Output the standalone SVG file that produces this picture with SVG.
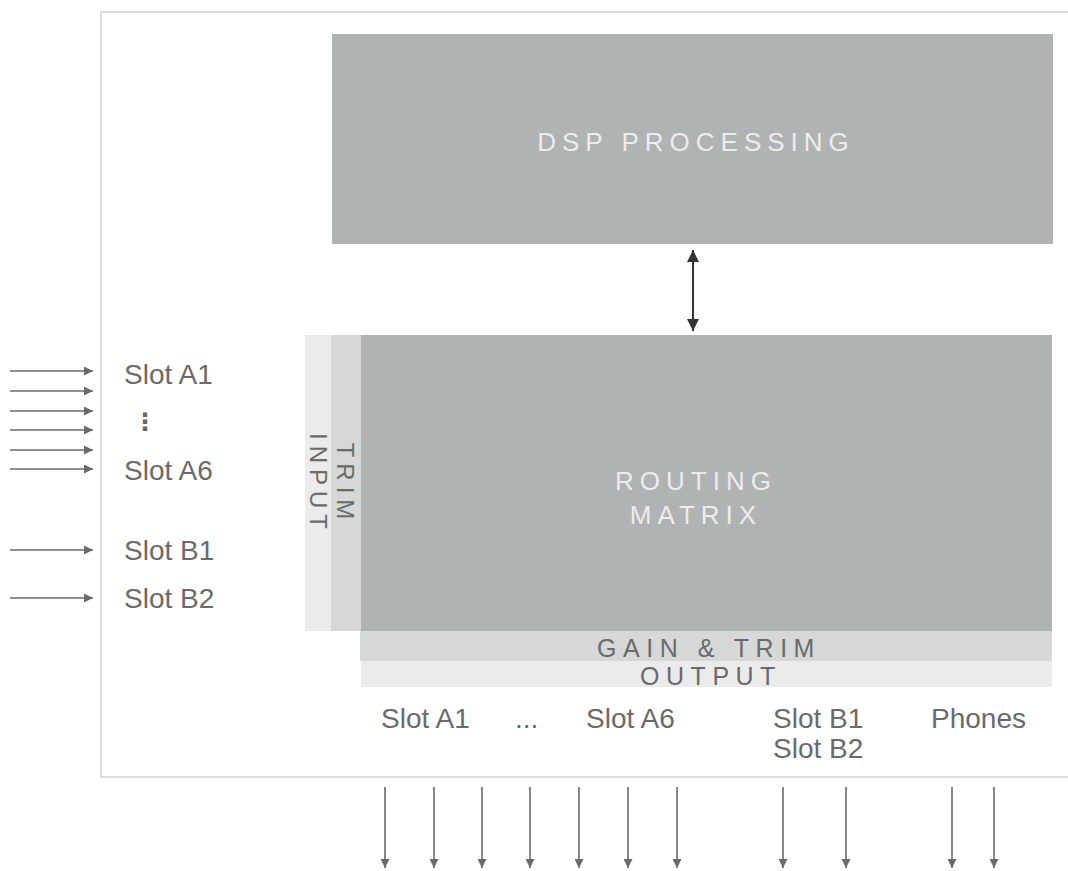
<svg xmlns="http://www.w3.org/2000/svg" width="1068" height="871" viewBox="0 0 1068 871">
<style>
.frame{stroke:#dcdcdc;stroke-width:2;fill:none}
.big{fill:#b0b3b3}
.trim{fill:#d6d8d8}
.light{fill:#ebebeb}
.btxt{font-family:"Liberation Sans",Arial,sans-serif;font-size:26px;fill:#ececec;letter-spacing:6px;text-anchor:middle}
.stxt{font-family:"Liberation Sans",Arial,sans-serif;font-size:25px;fill:#6a6a6a;letter-spacing:6.5px;text-anchor:middle}
.rtxt{font-family:"Liberation Sans",Arial,sans-serif;font-size:24px;fill:#6a6a6a;letter-spacing:6px;text-anchor:middle}
.lbl{font-family:"Liberation Sans",Arial,sans-serif;font-size:28px;fill:#6a6a6a}
.dots{font-family:"DejaVu Sans",sans-serif;font-size:24px;fill:#666666;font-weight:bold}
.conn{stroke:#6a6a6a;stroke-width:1.6;fill:none}
.dark{stroke:#333;stroke-width:2;fill:none}
</style>
<defs>
<marker id="ah" viewBox="0 0 10 10" refX="10" refY="5" markerWidth="9" markerHeight="9" markerUnits="userSpaceOnUse" orient="auto">
<path d="M0,0 L10,5 L0,10 z" fill="#6a6a6a"/>
</marker>
<marker id="ahd" viewBox="0 0 10 10" refX="10" refY="5" markerWidth="12" markerHeight="12" markerUnits="userSpaceOnUse" orient="auto-start-reverse">
<path d="M0,0 L10,5 L0,10 z" fill="#333"/>
</marker>
</defs>
<rect width="1068" height="871" fill="#fff"/>
<g id="frame">
<path class="frame" d="M1068,12 H101 V777 H1068"/>
</g>
<g id="dsp">
<rect class="big" x="332" y="34" width="721" height="210"/>
<text class="btxt" x="696" y="151">DSP PROCESSING</text>
</g>
<g id="input-strip">
<rect class="light" x="305" y="335" width="26" height="296"/>
<text class="rtxt" transform="translate(310,484) rotate(90)">INPUT</text>
</g>
<g id="trim-strip">
<rect class="trim" x="331" y="335" width="30" height="296"/>
<text class="rtxt" transform="translate(337,484) rotate(90)">TRIM</text>
</g>
<g id="routing">
<rect class="big" x="361" y="335" width="691" height="296"/>
<text class="btxt" x="696" y="490">ROUTING</text>
<text class="btxt" x="696" y="524">MATRIX</text>
</g>
<g id="gain-trim">
<rect class="trim" x="360" y="631" width="692" height="30"/>
<text class="stxt" x="709" y="657">GAIN &amp; TRIM</text>
</g>
<g id="output">
<rect class="light" x="361" y="661" width="691" height="26"/>
<text class="stxt" x="711" y="685">OUTPUT</text>
</g>
<g id="input-labels">
<text class="lbl" x="124" y="384">Slot A1</text>
<text class="dots" x="133" y="430">⋮</text>
<text class="lbl" x="124" y="480">Slot A6</text>
<text class="lbl" x="124" y="560">Slot B1</text>
<text class="lbl" x="124" y="608">Slot B2</text>
</g>
<g id="output-labels">
<text class="lbl" x="381" y="728">Slot A1</text>
<text class="lbl" x="515" y="728">...</text>
<text class="lbl" x="586" y="728">Slot A6</text>
<text class="lbl" x="773" y="728">Slot B1</text>
<text class="lbl" x="773" y="758">Slot B2</text>
<text class="lbl" x="931" y="728">Phones</text>
</g>
<g id="connectors">
<line class="dark" x1="693" y1="250" x2="693" y2="331" marker-start="url(#ahd)" marker-end="url(#ahd)"/>
<line class="conn" x1="10" y1="371" x2="93" y2="371" marker-end="url(#ah)"/>
<line class="conn" x1="10" y1="391" x2="93" y2="391" marker-end="url(#ah)"/>
<line class="conn" x1="10" y1="411" x2="93" y2="411" marker-end="url(#ah)"/>
<line class="conn" x1="10" y1="430" x2="93" y2="430" marker-end="url(#ah)"/>
<line class="conn" x1="10" y1="450" x2="93" y2="450" marker-end="url(#ah)"/>
<line class="conn" x1="10" y1="469" x2="93" y2="469" marker-end="url(#ah)"/>
<line class="conn" x1="10" y1="550" x2="93" y2="550" marker-end="url(#ah)"/>
<line class="conn" x1="10" y1="598" x2="93" y2="598" marker-end="url(#ah)"/>
<line class="conn" x1="385" y1="787" x2="385" y2="868" marker-end="url(#ah)"/>
<line class="conn" x1="434" y1="787" x2="434" y2="868" marker-end="url(#ah)"/>
<line class="conn" x1="482" y1="787" x2="482" y2="868" marker-end="url(#ah)"/>
<line class="conn" x1="530" y1="787" x2="530" y2="868" marker-end="url(#ah)"/>
<line class="conn" x1="579" y1="787" x2="579" y2="868" marker-end="url(#ah)"/>
<line class="conn" x1="628" y1="787" x2="628" y2="868" marker-end="url(#ah)"/>
<line class="conn" x1="677" y1="787" x2="677" y2="868" marker-end="url(#ah)"/>
<line class="conn" x1="783" y1="787" x2="783" y2="868" marker-end="url(#ah)"/>
<line class="conn" x1="846" y1="787" x2="846" y2="868" marker-end="url(#ah)"/>
<line class="conn" x1="952" y1="787" x2="952" y2="868" marker-end="url(#ah)"/>
<line class="conn" x1="994" y1="787" x2="994" y2="868" marker-end="url(#ah)"/>
</g>
</svg>
